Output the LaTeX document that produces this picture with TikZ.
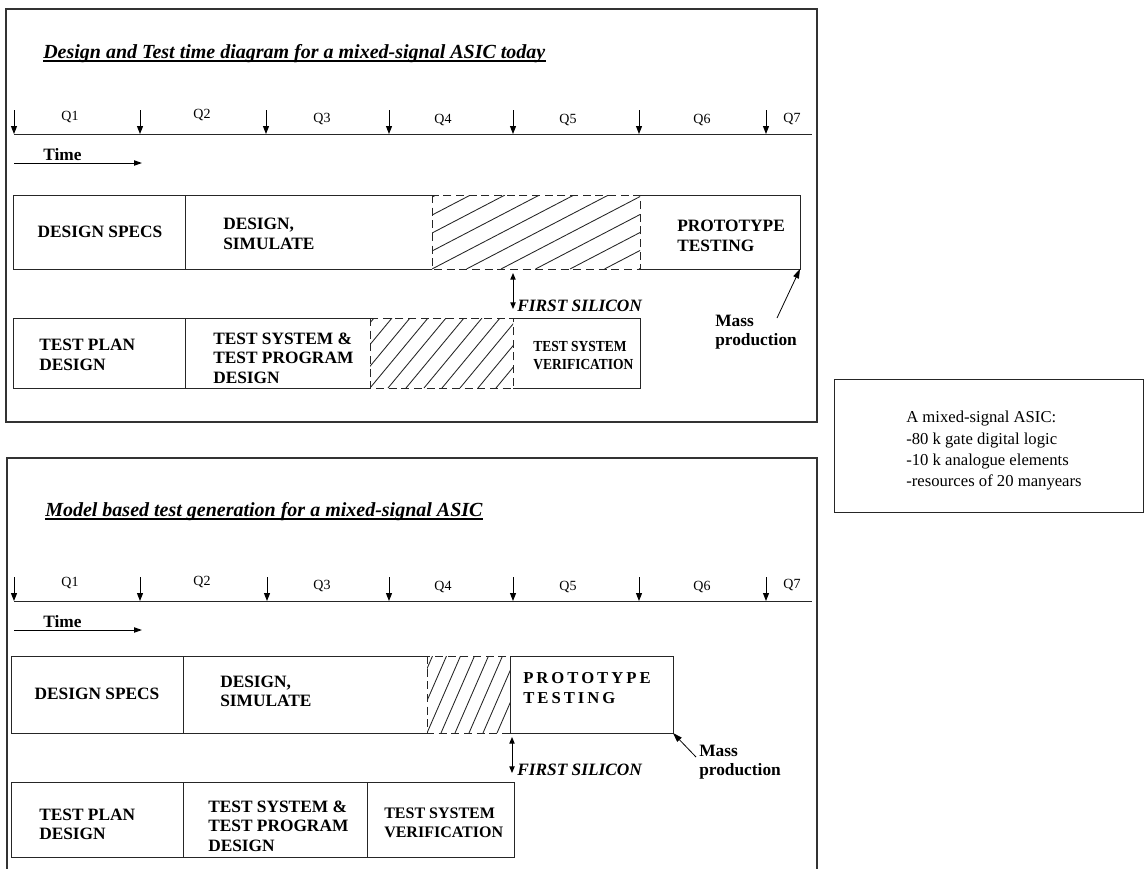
\documentclass[tikz,border=0pt]{standalone}
\usepackage{fontspec}
\setmainfont{Liberation Serif}
\newfontfamily\narrowfont[FakeStretch=0.88]{Liberation Serif}
\newfontfamily\spacedfont[LetterSpace=18]{Liberation Serif}
\usetikzlibrary{arrows.meta}

\begin{document}
\begin{tikzpicture}[x=0.75pt,y=-0.75pt,
  frame/.style={draw=black!80, line width=0.9pt},
  boxline/.style={draw=black!85, line width=0.75pt},
  dashline/.style={draw=black!85, line width=0.75pt, dash pattern=on 6pt off 3.5pt},
  hatchline/.style={draw=black!85, line width=0.65pt},
  tick/.style={draw=black, line width=0.75pt, -{Triangle[length=6pt,width=4.5pt]}},
  timearrow/.style={draw=black, line width=0.75pt, -{Triangle[length=6pt,width=4pt]}},
  silicon/.style={draw=black, line width=0.75pt, {Triangle[length=5pt,width=4pt]}-{Triangle[length=5pt,width=4pt]}},
  massarrow/.style={draw=black, line width=0.6pt, -{Triangle[length=7pt,width=4.5pt]}},
  lbl/.style={font=\fontsize{13}{14.5}\selectfont\bfseries, align=left, inner sep=0pt, anchor=west},
  narrowlbl/.style={font=\narrowfont\fontsize{11.5}{13.5}\selectfont\bfseries, align=left, inner sep=0pt, anchor=west},
  spacedlbl/.style={font=\spacedfont\fontsize{12.5}{14.5}\selectfont\bfseries, align=left, inner sep=0pt, anchor=west},
  silicontext/.style={font=\fontsize{13}{14.5}\selectfont\bfseries\itshape, inner sep=0pt, anchor=west},
  qlbl/.style={font=\fontsize{10.5}{12}\selectfont, inner sep=0pt},
  heading/.style={font=\fontsize{15}{18}\selectfont\bfseries\itshape, inner sep=0pt, anchor=base west},
  notetext/.style={font=\fontsize{12.5}{16}\selectfont, align=left, inner sep=0pt, anchor=west},
]

\useasboundingbox (0,0) rectangle (1145,868);

% ---------- outer frames ----------
\draw[frame] (6,9) rectangle (817,422);
\draw[frame] (7,880) -- (7,458) -- (817,458) -- (817,880);

% ---------- side note ----------
\draw[boxline] (834,379) rectangle (1143,512);
\node[notetext] (asic) at (906,451) {A mixed-signal ASIC:\\-80 k gate digital logic\\-10 k analogue elements\\-resources of 20 manyears};

% =====================================================
% Panel 1: design and test today
% =====================================================
\node[heading] (head1) at (43,58) {Design and Test time diagram for a mixed-signal ASIC today};
\draw[line width=1.2pt] ([yshift=-2.2pt]head1.base west) -- ([yshift=-2.2pt]head1.base east);

% quarter axis
\coordinate (axA0) at (14,134);
\coordinate (axA1) at (812,134);
\draw[boxline] (axA0) -- (axA1);
\foreach \x [count=\i] in {14,140,266,389,513,639,766} {
  \coordinate (qa\i) at (\x,110);
  \coordinate (qb\i) at (\x,134);
  \draw[tick] (qa\i) -- (qb\i);
}
\node[qlbl] (q1a) at (70,117) {Q1};
\node[qlbl] (q2a) at (202,115) {Q2};
\node[qlbl] (q3a) at (322,119) {Q3};
\node[qlbl] (q4a) at (443,120) {Q4};
\node[qlbl] (q5a) at (568,120) {Q5};
\node[qlbl] (q6a) at (702,120) {Q6};
\node[qlbl] (q7a) at (792,119) {Q7};

\node[lbl] (time1) at (43,155) {Time};
\coordinate (tA0) at (14,163);
\coordinate (tA1) at (142,163);
\draw[timearrow] (tA0) -- (tA1);

% design row
\draw[boxline] (432,195) -- (13,195) -- (13,269) -- (432,269);
\draw[boxline] (185,195) -- (185,269);
\draw[boxline] (640,195) -- (800,195) -- (800,269) -- (640,269);
\begin{scope}
  \clip (432,195) rectangle (640,269);
  \foreach \k in {-5,...,7}
    \draw[hatchline] ({432+34.5*\k},269) -- ++(142,-74);
\end{scope}
\draw[dashline] (432,195) rectangle (640,269);

\node[lbl, anchor=center] (spec1) at (100,232) {DESIGN SPECS};
\node[lbl] (sim1) at (223,234) {DESIGN,\\SIMULATE};
\node[lbl] (proto1) at (677,236) {PROTOTYPE\\TESTING};

% test row
\draw[boxline] (370,318) -- (13,318) -- (13,388) -- (370,388);
\draw[boxline] (185,318) -- (185,388);
\draw[boxline] (513,318) -- (640,318) -- (640,388) -- (513,388);
\begin{scope}
  \clip (370,318) rectangle (513,388);
  \foreach \k in {-5,...,9}
    \draw[hatchline] ({370+18*\k},388) -- ++(58,-70);
\end{scope}
\draw[dashline] (370,318) rectangle (513,388);

\node[lbl] (plan1) at (39,355) {TEST PLAN\\DESIGN};
\node[lbl] (tsys1) at (213,358) {TEST SYSTEM \&\\TEST PROGRAM\\DESIGN};
\node[narrowlbl] (verif1) at (533,356) {TEST SYSTEM\\VERIFICATION};

% first silicon and mass production
\coordinate (fsA0) at (513,273);
\coordinate (fsA1) at (513,309);
\draw[silicon] (fsA0) -- (fsA1);
\node[silicontext] (fs1) at (517,306) {FIRST SILICON};

\node[lbl] (mass1) at (715,332) {Mass\\production};
\coordinate (mpA0) at (777,318);
\coordinate (mpA1) at (800,269);
\draw[massarrow] (mpA0) -- (mpA1);

% =====================================================
% Panel 2: model based test generation
% =====================================================
\node[heading] (head2) at (45,516) {Model based test generation for a mixed-signal ASIC};
\draw[line width=1.2pt] ([yshift=-2.2pt]head2.base west) -- ([yshift=-2.2pt]head2.base east);

\coordinate (axB0) at (14,601);
\coordinate (axB1) at (812,601);
\draw[boxline] (axB0) -- (axB1);
\foreach \x [count=\i] in {14,140,267,389,513,639,766} {
  \coordinate (qc\i) at (\x,577);
  \coordinate (qd\i) at (\x,601);
  \draw[tick] (qc\i) -- (qd\i);
}
\node[qlbl] (q1b) at (70,583) {Q1};
\node[qlbl] (q2b) at (202,582) {Q2};
\node[qlbl] (q3b) at (322,586) {Q3};
\node[qlbl] (q4b) at (443,587) {Q4};
\node[qlbl] (q5b) at (568,587) {Q5};
\node[qlbl] (q6b) at (702,587) {Q6};
\node[qlbl] (q7b) at (792,585) {Q7};

\node[lbl] (time2) at (43,622) {Time};
\coordinate (tB0) at (14,630);
\coordinate (tB1) at (142,630);
\draw[timearrow] (tB0) -- (tB1);

% design row
\draw[boxline] (427,656) -- (11,656) -- (11,733) -- (427,733);
\draw[boxline] (183,656) -- (183,733);
\begin{scope}
  \clip (427,656) rectangle (510,733);
  \foreach \k in {-4,...,7}
    \draw[hatchline] ({427+14*\k},733) -- ++(33.5,-77);
\end{scope}
\draw[dashline] (427,656) rectangle (510,733);
\draw[boxline] (510,656) rectangle (673,733);

\node[lbl, anchor=center] (spec2) at (97,694) {DESIGN SPECS};
\node[lbl] (sim2) at (220,691) {DESIGN,\\SIMULATE};
\node[spacedlbl] (proto2) at (523,688) {PROTOTYPE\\TESTING};

% test row
\draw[boxline] (11,782) rectangle (514,857);
\draw[boxline] (183,782) -- (183,857);
\draw[boxline] (367,782) -- (367,857);

\node[lbl] (plan2) at (39,824) {TEST PLAN\\DESIGN};
\node[lbl] (tsys2) at (208,826) {TEST SYSTEM \&\\TEST PROGRAM\\DESIGN};
\node[font=\fontsize{12}{14}\selectfont\bfseries, align=left, inner sep=0pt, anchor=west] (verif2) at (384,823) {TEST SYSTEM\\VERIFICATION};

% first silicon and mass production
\coordinate (fsB0) at (512,737);
\coordinate (fsB1) at (512,773);
\draw[silicon] (fsB0) -- (fsB1);
\node[silicontext] (fs2) at (517,770) {FIRST SILICON};

\node[lbl] (mass2) at (699,762) {Mass\\production};
\coordinate (mpB0) at (696,757);
\coordinate (mpB1) at (673,733);
\draw[massarrow] (mpB0) -- (mpB1);

\end{tikzpicture}
\end{document}
